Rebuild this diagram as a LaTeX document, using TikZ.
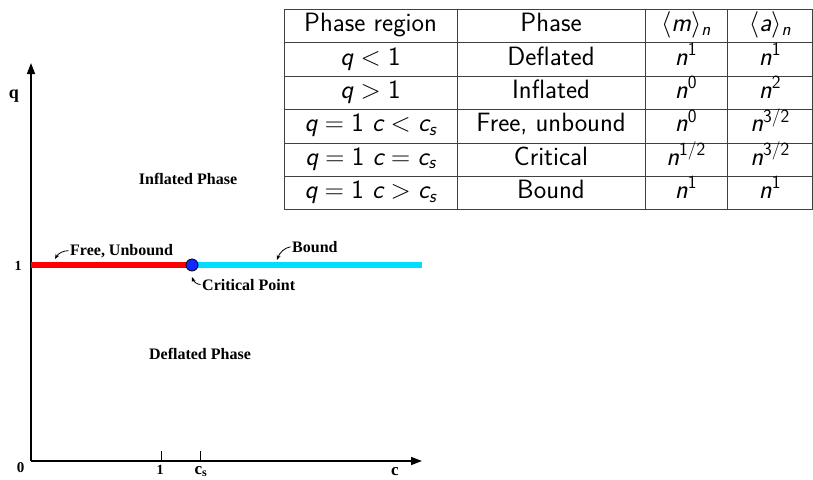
\documentclass[tikz,border=0pt]{standalone}
\usepackage{fix-cm}
\usepackage{amsmath}
\usepackage{fontspec}
\newfontfamily\labelfont{Liberation Serif}
\usetikzlibrary{arrows.meta}
\definecolor{boundcyan}{RGB}{0,221,255}
\definecolor{critblue}{RGB}{20,40,255}
\newcommand{\sv}[1]{\text{\itshape #1}}

\begin{document}
\begin{tikzpicture}[x=1pt,y=-1pt,
  axis/.style={line width=1.5pt, -{Triangle[length=11pt,width=8pt]}},
  lbl/.style={inner sep=0pt, font=\labelfont\bfseries\fontsize{16}{18}\selectfont},
  ticklbl/.style={inner sep=0pt, font=\labelfont\bfseries\fontsize{14}{16}\selectfont},
  note/.style={line width=0.8pt, -{Stealth[length=5pt,width=4pt]}, shorten <=1.5pt},
  tab/.style={anchor=base, inner sep=0pt, font=\sffamily\fontsize{26.5}{28}\selectfont},
  rule/.style={black!75, line width=1pt}]
\useasboundingbox (0,0) rectangle (813,479);
% axes
\coordinate (origin) at (31,461);
\coordinate (qtop) at (31,63);
\coordinate (ctip) at (422,461);
\draw[axis] (origin) -- (qtop);
\draw[axis] (origin) -- (ctip);
\coordinate (tickone) at (161.5,461);
\coordinate (tickcs) at (200.5,461);
\draw[line width=0.8pt] (tickone) -- ++(0,-10);
\draw[line width=0.8pt] (tickcs) -- ++(0,-10);
\node[ticklbl, font=\labelfont\bfseries\fontsize{15}{16}\selectfont] (zero) at (20.5,467.5) {0};
\node[ticklbl, anchor=base] (one) at (160,474) {1};
\node[ticklbl, anchor=base west, font=\labelfont\bfseries\fontsize{17}{18}\selectfont] (cs) at (194.5,474) {c\textsubscript{s}};
\node[lbl, anchor=base, font=\labelfont\bfseries\fontsize{17}{18}\selectfont] (clbl) at (395,475.5) {c};
\node[lbl, anchor=base, font=\labelfont\bfseries\fontsize{18}{18}\selectfont] (qlbl) at (14,98) {q};
\node[ticklbl] (qone) at (18,266) {1};
% phase line q = 1
\coordinate (left) at (31,265);
\coordinate (critpt) at (192,265);
\coordinate (right) at (422,265);
\draw[red, line width=6pt] (left) -- (critpt);
\draw[boundcyan, line width=6pt] (critpt) -- (right);
\node[circle, draw=black, fill=critblue, line width=0.8pt, minimum size=12pt, inner sep=0pt] (crit) at (critpt) {};
% labels
\node[lbl, anchor=base west] (free) at (70,255) {Free, Unbound};
\coordinate (freetip) at (55,259);
\draw[note] (free.west) to[out=180,in=60] (freetip);
\node[lbl, anchor=base west] (bound) at (292,252) {Bound};
\coordinate (boundtip) at (277,260);
\draw[note] (bound.west) to[out=190,in=70] (boundtip);
\node[lbl, anchor=base west] (critlbl) at (202,290) {Critical Point};
\coordinate (crittip) at (192,277);
\draw[note] (critlbl.west) to[out=180,in=-70] (crittip);
\node[lbl, anchor=base] (inflated) at (188,184) {Inflated Phase};
\node[lbl, anchor=base] (deflated) at (200,359) {Deflated Phase};
% table
\draw[rule] (284,9) rectangle (812,209.5);
\draw[rule] (457,9) -- (457,209.5);
\draw[rule] (645,9) -- (645,209.5);
\draw[rule] (727,9) -- (727,209.5);
\draw[rule] (284,42.5) -- (812,42.5);
\draw[rule] (284,76) -- (812,76);
\draw[rule] (284,109.5) -- (812,109.5);
\draw[rule] (284,143) -- (812,143);
\draw[rule] (284,176.5) -- (812,176.5);
\node[tab] (h1) at (370.5,31.7) {Phase region};
\node[tab] (h2) at (551,31.7) {Phase};
\node[tab] (h3) at (686,31.7) {$\langle\sv{m}\rangle_{\sv{n}}$};
\node[tab] (h4) at (770,31.7) {$\langle\sv{a}\rangle_{\sv{n}}$};
\node[tab] (r1a) at (370.5,65) {$\sv{q}<\text{1}$};
\node[tab] (r1b) at (551,65) {Deflated};
\node[tab] (r1c) at (686,65) {$\sv{n}^{\text{1}}$};
\node[tab] (r1d) at (770,65) {$\sv{n}^{\text{1}}$};
\node[tab] (r2a) at (370.5,98.3) {$\sv{q}>\text{1}$};
\node[tab] (r2b) at (551,98.3) {Inflated};
\node[tab] (r2c) at (686,98.3) {$\sv{n}^{\text{0}}$};
\node[tab] (r2d) at (770,98.3) {$\sv{n}^{\text{2}}$};
\node[tab] (r3a) at (370.5,131.7) {$\sv{q}=\text{1}\ \sv{c}<\sv{c}_{\sv{s}}$};
\node[tab] (r3b) at (551,131.7) {Free, unbound};
\node[tab] (r3c) at (686,131.7) {$\sv{n}^{\text{0}}$};
\node[tab] (r3d) at (770,131.7) {$\sv{n}^{\text{3/2}}$};
\node[tab] (r4a) at (370.5,165) {$\sv{q}=\text{1}\ \sv{c}=\sv{c}_{\sv{s}}$};
\node[tab] (r4b) at (551,165) {Critical};
\node[tab] (r4c) at (686,165) {$\sv{n}^{\text{1/2}}$};
\node[tab] (r4d) at (770,165) {$\sv{n}^{\text{3/2}}$};
\node[tab] (r5a) at (370.5,198.3) {$\sv{q}=\text{1}\ \sv{c}>\sv{c}_{\sv{s}}$};
\node[tab] (r5b) at (551,198.3) {Bound};
\node[tab] (r5c) at (686,198.3) {$\sv{n}^{\text{1}}$};
\node[tab] (r5d) at (770,198.3) {$\sv{n}^{\text{1}}$};
\end{tikzpicture}
\end{document}
